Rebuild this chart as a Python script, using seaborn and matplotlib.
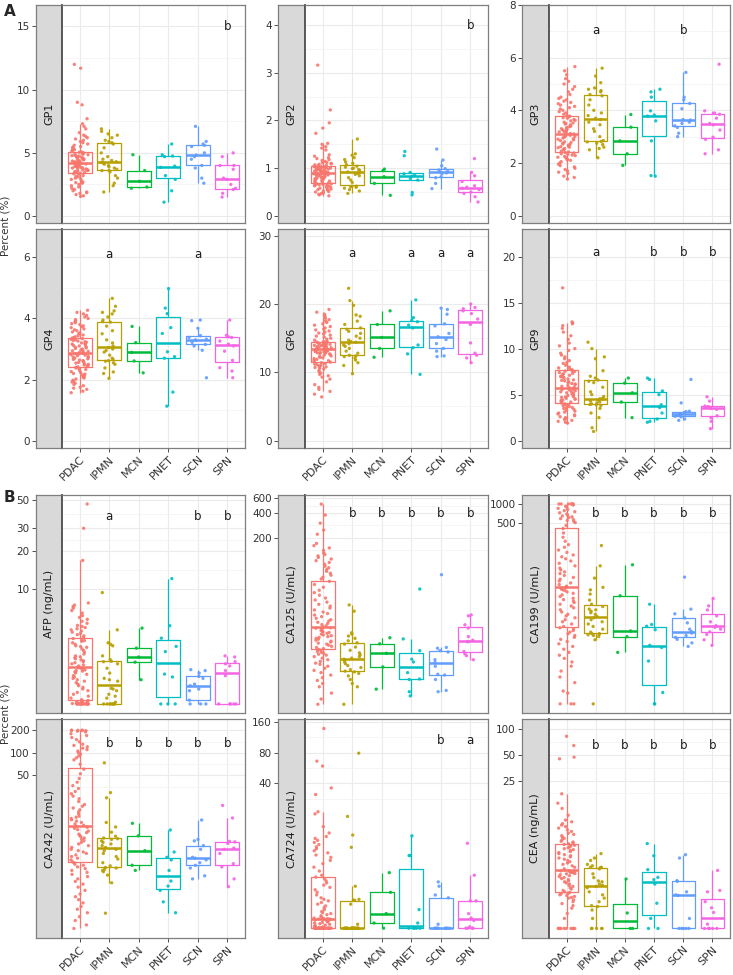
import numpy as np
import pandas as pd
import matplotlib
matplotlib.use("Agg")
import matplotlib.pyplot as plt
import seaborn as sns
from matplotlib.ticker import FixedLocator, NullLocator

np.random.seed(3)
sns.set_theme(style="white")
plt.rcParams['font.family'] = ['DejaVu Sans']

GROUPS = ["PDAC", "IPMN", "MCN", "PNET", "SCN", "SPN"]
COLORS = ["#F8766D", "#B79F00", "#00BA38", "#00BFC4", "#619CFF", "#F564E3"]

# ---------------- Panel A data (Percent %) ----------------
GP1 = {
    "PDAC": [1.55,1.6,1.7,1.8,1.85,1.9,2.0,2.1,2.2,2.3,2.4,2.5,2.6,2.65,2.7,2.8,2.9,2.95,3.0,3.1,3.15,3.2,3.3,3.35,3.4,
             3.45,3.5,3.52,3.55,3.6,3.62,3.65,3.7,3.72,3.75,3.8,3.82,3.85,3.9,3.92,3.95,4.0,4.02,4.05,4.1,4.12,4.15,4.18,4.2,4.22,
             4.25,4.28,4.3,4.35,4.38,4.4,4.45,4.48,4.5,4.55,4.58,4.6,4.65,4.68,4.7,4.75,4.78,4.8,4.85,4.88,4.9,4.95,5.0,5.05,5.08,
             5.12,5.2,5.25,5.3,5.4,5.45,5.5,5.6,5.7,5.8,5.9,6.0,6.1,6.2,6.3,6.4,6.6,6.9,7.1,7.3,7.7,8.8,9.0,11.7,12.0],
    "IPMN": [1.9,2.4,2.6,3.0,3.2,3.5,3.6,3.62,3.7,3.8,3.9,4.0,4.1,4.2,4.25,4.3,4.4,4.5,4.7,5.0,5.4,5.7,5.8,5.9,6.0,6.2,6.4,6.5,6.7,6.9],
    "MCN": [2.2,2.3,2.75,3.6,4.85],
    "PNET": [1.1,2.0,2.9,3.2,3.85,3.95,4.7,4.75,4.85,5.7],
    "SCN": [2.6,3.0,3.8,4.0,4.5,4.7,4.83,5.0,5.5,5.6,5.7,5.9,7.1],
    "SPN": [1.5,1.8,2.1,2.2,2.5,2.9,3.0,3.7,4.0,4.0,4.7,5.0],
}
GP2 = {
    "PDAC": [0.42,0.44,0.45,0.47,0.48,0.5,0.51,0.52,0.54,0.55,0.56,0.57,0.58,0.6,0.61,0.62,0.63,0.64,0.65,0.65,0.66,0.67,0.67,0.68,0.69,
             0.7,0.71,0.72,0.73,0.74,0.75,0.76,0.77,0.78,0.79,0.8,0.8,0.81,0.82,0.83,0.84,0.84,0.85,0.86,0.86,0.87,0.87,0.88,0.88,0.89,
             0.89,0.9,0.9,0.91,0.92,0.92,0.93,0.94,0.94,0.95,0.96,0.96,0.97,0.98,0.98,0.99,1.0,1.0,1.01,1.01,1.02,1.02,1.03,1.03,1.04,
             1.05,1.06,1.07,1.08,1.09,1.1,1.11,1.12,1.14,1.16,1.18,1.2,1.22,1.25,1.28,1.38,1.42,1.45,1.5,1.52,1.73,1.84,1.95,2.22,3.16],
    "IPMN": [0.47,0.52,0.55,0.58,0.6,0.61,0.62,0.62,0.7,0.75,0.8,0.84,0.87,0.89,0.9,0.92,0.95,0.97,0.99,1.0,1.02,1.04,1.07,1.1,1.13,1.18,1.22,1.27,1.3,1.61],
    "MCN": [0.43,0.68,0.82,0.95,0.98],
    "PNET": [0.44,0.49,0.75,0.78,0.83,0.85,0.88,0.91,1.26,1.35],
    "SCN": [0.57,0.68,0.8,0.82,0.88,0.9,0.92,0.93,0.96,0.99,1.05,1.17,1.4],
    "SPN": [0.29,0.4,0.47,0.5,0.55,0.58,0.6,0.63,0.72,0.84,0.91,1.2],
}
GP3 = {
    "PDAC": [1.39,1.45,1.5,1.6,1.65,1.7,1.75,1.8,1.85,1.9,1.95,2.0,2.05,2.1,2.12,2.15,2.2,2.22,2.25,2.28,2.3,2.33,2.35,2.38,2.4,
             2.42,2.45,2.5,2.52,2.55,2.58,2.6,2.62,2.65,2.68,2.7,2.72,2.75,2.78,2.8,2.85,2.88,2.9,2.92,2.95,2.98,3.0,3.02,3.05,3.08,
             3.1,3.12,3.15,3.18,3.2,3.22,3.25,3.28,3.3,3.32,3.35,3.38,3.4,3.45,3.48,3.5,3.52,3.55,3.6,3.62,3.65,3.7,3.72,3.75,3.78,
             3.8,3.85,3.9,3.95,4.0,4.05,4.1,4.15,4.2,4.25,4.3,4.35,4.4,4.45,4.5,4.6,4.7,4.8,4.9,5.0,5.1,5.2,5.35,5.5,5.66],
    "IPMN": [2.2,2.5,2.55,2.6,2.7,2.75,2.8,2.82,2.85,3.0,3.2,3.3,3.45,3.55,3.65,3.7,3.8,3.9,4.0,4.2,4.4,4.55,4.6,4.7,4.75,4.8,4.85,5.05,5.3,5.6],
    "MCN": [1.91,2.35,2.84,3.36,3.84],
    "PNET": [1.5,1.52,2.84,3.6,3.78,3.82,3.98,4.5,4.7,4.8],
    "SCN": [3.0,3.13,3.35,3.41,3.5,3.55,3.63,3.65,4.06,4.26,4.4,4.5,5.44],
    "SPN": [2.35,2.5,2.9,2.98,3.25,3.45,3.5,3.7,3.85,3.9,3.98,5.75],
}
GP4 = {
    "PDAC": [1.57,1.62,1.68,1.72,1.75,1.8,1.84,1.88,1.92,1.95,1.98,2.02,2.05,2.08,2.12,2.15,2.18,2.2,2.23,2.26,2.3,2.33,2.35,2.38,2.4,
             2.42,2.44,2.46,2.48,2.5,2.52,2.54,2.56,2.58,2.6,2.62,2.64,2.66,2.68,2.7,2.72,2.74,2.76,2.78,2.8,2.82,2.84,2.85,2.86,2.87,
             2.88,2.9,2.92,2.94,2.96,2.98,3.0,3.02,3.04,3.06,3.08,3.1,3.12,3.14,3.16,3.18,3.2,3.22,3.24,3.26,3.28,3.3,3.32,3.34,3.36,
             3.38,3.4,3.43,3.46,3.5,3.53,3.56,3.6,3.63,3.66,3.7,3.73,3.76,3.8,3.83,3.86,3.9,3.93,3.96,4.0,4.05,4.1,4.15,4.2,4.27],
    "IPMN": [2.04,2.2,2.25,2.38,2.5,2.55,2.6,2.62,2.66,2.7,2.8,2.9,2.95,3.0,3.05,3.1,3.2,3.3,3.5,3.6,3.75,3.88,3.9,3.95,4.05,4.15,4.2,4.25,4.4,4.66],
    "MCN": [2.22,2.61,2.89,3.21,3.74],
    "PNET": [1.13,1.59,2.7,2.75,2.91,3.51,3.7,4.16,4.34,4.98],
    "SCN": [2.06,2.96,3.1,3.15,3.22,3.28,3.3,3.32,3.38,3.44,3.68,3.93,3.95],
    "SPN": [2.06,2.28,2.39,2.63,2.93,3.1,3.16,3.26,3.38,3.4,3.45,3.95],
}
GP6 = {
    "PDAC": [6.4,6.8,7.2,7.5,7.8,8.2,8.6,9.0,9.3,9.5,9.7,9.9,10.1,10.3,10.5,10.6,10.7,10.8,10.9,11.0,11.1,11.2,11.3,11.4,11.5,
             11.6,11.7,11.8,11.9,12.0,12.1,12.2,12.3,12.4,12.5,12.6,12.7,12.75,12.8,12.85,12.9,12.95,13.0,13.05,13.1,13.15,13.2,13.25,13.3,13.35,
             13.4,13.45,13.5,13.55,13.6,13.65,13.7,13.75,13.8,13.85,13.9,13.95,14.0,14.05,14.1,14.15,14.2,14.25,14.3,14.32,14.35,14.4,14.42,14.45,14.48,
             14.55,14.7,14.85,15.0,15.15,15.3,15.45,15.6,15.75,15.9,16.05,16.2,16.35,16.5,16.7,16.9,17.1,17.3,17.5,17.7,17.9,18.2,18.5,18.8,19.2],
    "IPMN": [9.8,11.0,11.4,11.8,12.1,12.3,12.4,12.5,12.8,13.1,13.5,13.8,14.0,14.2,14.4,14.5,14.7,15.0,15.3,15.7,16.0,16.3,16.5,17.0,17.5,18.2,18.4,19.8,20.5,22.3],
    "MCN": [12.2,13.5,15.1,17.0,19.0],
    "PNET": [9.7,12.7,13.6,14.0,16.5,16.9,17.4,17.6,18.0,20.6],
    "SCN": [12.3,12.4,13.1,13.5,14.2,14.8,15.2,15.7,16.8,17.1,18.5,19.2,19.4],
    "SPN": [11.4,12.1,12.5,12.8,14.3,17.0,17.8,18.6,19.0,19.3,19.5,20.0],
}
GP9 = {
    "PDAC": [1.9,2.0,2.1,2.2,2.3,2.4,2.5,2.6,2.7,2.8,2.9,3.0,3.1,3.2,3.3,3.4,3.5,3.55,3.6,3.7,3.8,3.85,3.9,4.0,4.1,
             4.15,4.2,4.3,4.35,4.4,4.5,4.55,4.6,4.7,4.75,4.8,4.9,4.95,5.0,5.1,5.15,5.2,5.3,5.35,5.4,5.5,5.55,5.6,5.65,5.7,
             5.75,5.8,5.9,6.0,6.1,6.15,6.2,6.3,6.4,6.5,6.55,6.6,6.7,6.8,6.9,6.95,7.0,7.1,7.2,7.25,7.3,7.4,7.5,7.55,7.6,
             7.7,7.8,7.9,8.0,8.2,8.4,8.5,8.7,8.9,9.1,9.3,9.5,9.8,10.0,10.3,10.6,11.0,11.4,11.8,12.2,12.5,12.7,12.8,12.9,16.6],
    "IPMN": [1.0,1.4,2.5,3.0,3.5,3.8,3.9,3.92,4.0,4.1,4.2,4.3,4.4,4.5,4.55,4.6,4.8,5.0,5.3,5.8,6.3,6.45,6.6,6.8,7.0,7.6,8.9,9.1,10.0,10.7],
    "MCN": [2.5,4.2,5.2,6.25,6.8],
    "PNET": [2.0,2.1,2.35,3.0,3.6,3.9,5.0,5.4,6.65,6.8],
    "SCN": [2.2,2.35,2.6,2.65,2.75,2.85,2.9,2.95,3.05,3.16,3.2,4.1,6.65],
    "SPN": [1.3,2.1,2.5,2.7,3.4,3.5,3.6,3.65,3.7,3.75,4.3,4.76],
}

# ---------------- Panel B data (log scale) ----------------
AFP = {
    "PDAC": [1.26,1.26,1.26,1.26,1.26,1.26,1.26,1.26,1.26,1.26,1.26,1.26,1.26,1.26,1.26,1.26,1.27,1.28,1.29,1.3,1.3,1.31,1.32,1.33,1.34,
             1.36,1.4,1.45,1.5,1.55,1.6,1.65,1.7,1.75,1.8,1.85,1.9,1.95,2.0,2.05,2.1,2.15,2.2,2.25,2.28,2.3,2.33,2.36,2.4,2.42,
             2.45,2.5,2.55,2.6,2.65,2.7,2.75,2.8,2.85,2.9,2.95,3.0,3.1,3.2,3.3,3.4,3.5,3.55,3.6,3.7,3.8,3.9,3.95,4.0,4.1,
             4.2,4.3,4.4,4.5,4.6,4.7,4.8,4.9,5.0,5.1,5.2,5.4,5.6,5.8,6.0,6.2,6.5,6.8,7.1,7.3,7.5,7.8,16.8,30.0,46.5],
    "IPMN": [1.26,1.26,1.26,1.26,1.26,1.26,1.26,1.26,1.3,1.4,1.45,1.5,1.6,1.65,1.67,1.9,1.95,2.0,2.2,2.4,2.6,2.7,2.72,2.8,3.0,3.6,3.7,3.8,4.8,9.4],
    "MCN": [1.95,2.68,2.94,3.45,4.95],
    "PNET": [1.26,1.26,1.26,2.05,2.16,3.24,3.56,4.13,5.17,12.1],
    "SCN": [1.26,1.26,1.26,1.35,1.6,1.65,1.75,1.8,2.0,2.07,2.2,2.3,2.34],
    "SPN": [1.26,1.26,1.26,1.26,1.26,2.1,2.3,2.5,2.6,2.7,2.94,3.0],
}
CA125 = {
    "PDAC": [1.9,2.2,2.6,3.1,3.4,3.7,4.0,4.3,4.6,4.9,5.2,5.5,5.8,6.0,6.3,6.6,6.9,7.2,7.5,7.7,7.9,8.1,8.3,8.6,8.8,
             9.0,9.3,9.6,9.9,10.2,10.5,10.8,11.1,11.4,11.7,12.0,12.3,12.6,12.9,13.2,13.5,13.8,14.1,14.4,14.7,15.0,15.3,15.6,15.9,16.1,
             16.4,17.0,17.6,18.2,18.8,19.5,20.2,21.0,22.0,23.0,24.0,25.0,26.5,28.0,29.5,31.0,33.0,35.0,37.0,40.0,43.0,46.0,50.0,54.0,59.0,
             63,66,70,74,78,82,86,90,95,100,105,110,115,120,125,130,140,150,160,170,220,247,300,376,511],
    "IPMN": [1.9,3.1,3.4,3.8,4.2,4.5,4.7,4.8,5.0,5.3,5.6,5.9,6.2,6.5,6.7,6.9,7.2,7.6,8.0,8.6,9.4,10.2,10.6,11.2,12.0,12.8,13.5,14.0,25.6,30.5],
    "MCN": [2.9,5.4,7.9,10.3,12.2],
    "PNET": [2.4,2.7,3.8,3.85,4.6,6.2,6.7,8.5,11.8,47.6],
    "SCN": [2.7,2.8,3.8,4.3,4.4,5.5,6.1,6.6,8.2,8.5,9.1,9.3,71],
    "SPN": [6.6,7.4,7.8,8.3,10.9,11.0,11.4,12.6,16.0,17.5,22.5,23.1],
}
CA199 = {
    "PDAC": [0.59,0.59,0.59,0.88,0.95,1.3,1.6,2.0,2.4,2.8,3.2,3.6,4.0,4.5,5.0,5.5,6.0,6.5,7.0,7.5,8.0,8.5,9.0,9.5,10.0,
             10.5,11.5,12.5,13.5,14.5,15.5,16.5,18,19.5,21,22.5,24,25.5,27,28.5,30,32,34,36,38,40,41,42,44,45,
             47,50,53,57,61,65,70,75,80,86,92,100,110,120,130,140,150,165,180,200,220,250,290,340,400,
             450,500,520,540,560,580,600,620,640,660,690,720,750,780,810,850,880,920,960,1000,1000,1000,1000,1000,1000],
    "IPMN": [0.59,6.4,7.2,7.5,7.7,7.9,8.0,8.0,8.5,9.5,10.5,11.5,12.5,13.5,14.5,15.3,16.5,17.5,18.5,19.5,20,22,24,28,35,41,45,63.5,100,213],
    "MCN": [4.0,7.2,8.9,32.9,104],
    "PNET": [0.59,0.59,0.9,2.9,4.8,5.2,9.3,10.6,11.3,24],
    "SCN": [5.0,5.7,6.5,7.0,7.5,8.2,8.7,9.5,12.0,14.4,16.8,20,65.8],
    "SPN": [5.2,6.4,7.8,8.6,9.5,10.2,10.8,12.5,15.6,19.4,22.6,29.8],
}
CA242 = {
    "PDAC": [0.43,0.48,0.55,0.62,0.7,0.78,0.85,0.95,1.05,1.15,1.25,1.4,1.55,1.7,1.85,2.0,2.15,2.3,2.45,2.6,2.75,2.9,3.05,3.15,3.3,
             3.4,3.6,3.8,4.0,4.2,4.4,4.6,4.8,5.0,5.3,5.6,5.9,6.2,6.5,6.8,7.1,7.4,7.7,8.0,8.4,8.8,9.2,9.6,9.9,10.2,
             10.5,11,11.5,12,12.5,13,13.5,14,15,16,17,18,19,20,22,24,26,28,30,33,36,40,45,52,60,
             70,80,85,90,95,100,105,110,115,120,125,130,140,150,160,170,180,190,195,198,200,200,200,200,200],
    "IPMN": [0.69,1.77,2.25,2.5,2.6,2.7,2.8,2.85,3.0,3.3,3.7,4.0,4.4,4.8,5.0,5.3,5.6,5.9,6.2,6.5,6.8,6.95,7.1,7.5,8.5,10.0,11.5,24.7,29,73],
    "MCN": [2.6,3.05,4.8,7.6,11.2],
    "PNET": [0.7,0.98,1.4,1.6,1.87,2.6,3.6,3.9,4.6,9.1],
    "SCN": [2.0,2.2,2.8,3.04,3.3,3.6,3.8,3.9,5.0,5.6,6.5,6.8,12.4],
    "SPN": [1.57,2.0,2.9,3.2,4.4,5.0,5.2,6.0,6.3,6.4,13.2,19.5],
}
CA724 = {
    "PDAC": [1.51,1.51,1.51,1.51,1.51,1.51,1.51,1.51,1.51,1.51,1.51,1.51,1.51,1.51,1.51,1.51,1.51,1.51,1.51,1.51,1.51,1.51,1.51,1.51,1.51,
             1.51,1.51,1.51,1.51,1.51,1.55,1.58,1.6,1.62,1.65,1.67,1.7,1.72,1.74,1.76,1.78,1.8,1.81,1.82,1.83,1.84,1.85,1.86,1.86,1.87,
             1.88,1.9,1.95,2.0,2.05,2.1,2.15,2.2,2.3,2.4,2.5,2.6,2.7,2.8,2.9,3.0,3.2,3.4,3.6,3.8,4.0,4.2,4.4,4.6,4.8,
             5.0,5.5,6.0,6.5,7.0,7.5,7.9,8.3,8.7,9.1,9.5,10.0,10.5,11.0,11.5,12.0,13.0,15.0,20.0,21.0,31.0,36.0,59.0,66.0,138.0],
    "IPMN": [1.51,1.51,1.51,1.51,1.51,1.51,1.51,1.51,1.51,1.51,1.51,1.51,1.51,1.51,1.51,1.51,1.51,1.51,1.51,1.51,
             1.65,2.6,2.84,2.84,2.9,3.9,9.4,12.4,18.9,79],
    "MCN": [1.51,1.7,2.1,3.4,5.3],
    "PNET": [1.51,1.51,1.51,1.51,1.51,1.7,2.3,7.8,7.8,12.2],
    "SCN": [1.51,1.51,1.51,1.51,1.51,1.51,1.51,1.51,1.65,3.0,3.2,3.9,4.3],
    "SPN": [1.51,1.51,1.51,1.51,1.56,1.8,1.9,2.1,2.8,2.8,5.0,10.3],
}
CEA = {
    "PDAC": [0.49,0.49,0.49,0.49,0.49,0.49,0.49,0.49,0.49,0.49,0.64,0.73,0.84,0.9,0.95,1.0,1.05,1.1,1.12,1.15,1.18,1.2,1.23,1.25,1.28,
             1.3,1.35,1.4,1.45,1.5,1.55,1.6,1.65,1.7,1.75,1.8,1.85,1.9,1.95,2.0,2.05,2.1,2.12,2.15,2.18,2.2,2.22,2.25,2.27,2.29,
             2.32,2.4,2.5,2.6,2.7,2.8,2.9,3.0,3.1,3.2,3.3,3.4,3.5,3.6,3.7,3.8,3.9,4.0,4.1,4.2,4.3,4.4,4.5,4.6,4.68,
             4.8,4.9,5.0,5.2,5.4,5.6,5.8,6.0,6.2,6.5,6.8,7.1,7.4,7.7,8.0,8.4,8.8,10,12,13.8,17.7,45,47,64,82],
    "IPMN": [0.49,0.49,0.49,0.49,0.49,0.64,0.8,0.88,0.9,1.0,1.1,1.2,1.3,1.45,1.5,1.55,1.6,1.7,1.74,1.9,2.1,2.4,2.48,2.5,2.5,2.6,2.7,3.0,3.2,3.6],
    "MCN": [0.49,0.49,0.74,1.83],
    "PNET": [0.49,0.49,0.64,0.96,1.6,1.8,1.91,2.35,3.4,4.7],
    "SCN": [0.49,0.49,0.49,0.49,0.49,0.64,1.18,1.2,1.3,1.72,1.75,3.2,3.5],
    "SPN": [0.49,0.49,0.49,0.49,0.49,0.55,0.75,0.85,1.0,1.3,1.35,2.3],
}

# Panel specs: (strip label, data, row, col, log, ticks, tick labels, minor gridlines, ylim, letters, letter y)
PANELS = [
    ("GP1", GP1, 0, 0, False, [0, 5, 10, 15], ["0", "5", "10", "15"], [2.5, 7.5, 12.5], (-0.55, 16.7), {"SPN": "b"}, 15.0),
    ("GP2", GP2, 0, 1, False, [0, 1, 2, 3, 4], ["0", "1", "2", "3", "4"], [0.5, 1.5, 2.5, 3.5], (-0.15, 4.42), {"SPN": "b"}, 4.0),
    ("GP3", GP3, 0, 2, False, [0, 2, 4, 6, 8], ["0", "2", "4", "6", "8"], [1, 3, 5, 7], (-0.28, 8.0), {"IPMN": "a", "SCN": "b"}, 7.05),
    ("GP4", GP4, 1, 0, False, [0, 2, 4, 6], ["0", "2", "4", "6"], [1, 3, 5], (-0.24, 6.93), {"IPMN": "a", "SCN": "a"}, 6.1),
    ("GP6", GP6, 1, 1, False, [0, 10, 20, 30], ["0", "10", "20", "30"], [5, 15, 25], (-1.08, 30.98),
     {"IPMN": "a", "PNET": "a", "SCN": "a", "SPN": "a"}, 27.4),
    ("GP9", GP9, 1, 2, False, [0, 5, 10, 15, 20], ["0", "5", "10", "15", "20"], [2.5, 7.5, 12.5, 17.5], (-0.8, 23.0),
     {"IPMN": "a", "PNET": "b", "SCN": "b", "SPN": "b"}, 20.4),
    ("AFP (ng/mL)", AFP, 2, 0, True, [10, 20, 30, 50], ["10", "20", "30", "50"], [7.07, 14.1, 24.5, 38.7], (1.07, 54.7),
     {"IPMN": "a", "SCN": "b", "SPN": "b"}, 37.0),
    ("CA125 (U/mL)", CA125, 2, 1, True, [200, 400, 600], ["200", "400", "600"], [141, 283, 490], (1.49, 658),
     {"IPMN": "b", "MCN": "b", "PNET": "b", "SCN": "b", "SPN": "b"}, 387),
    ("CA199 (U/mL)", CA199, 2, 2, True, [500, 1000], ["500", "1000"], [354, 707], (0.42, 1396),
     {"IPMN": "b", "MCN": "b", "PNET": "b", "SCN": "b", "SPN": "b"}, 690),
    ("CA242 (U/mL)", CA242, 3, 0, True, [50, 100, 200], ["50", "100", "200"], [35, 71, 141], (0.32, 284),
     {"IPMN": "b", "MCN": "b", "PNET": "b", "SCN": "b", "SPN": "b"}, 131),
    ("CA724 (U/mL)", CA724, 3, 1, True, [40, 80, 160], ["40", "80", "160"], [28, 57, 113], (1.21, 171),
     {"SCN": "b", "SPN": "a"}, 105),
    ("CEA (ng/mL)", CEA, 3, 2, True, [25, 50, 100], ["25", "50", "100"], [18, 35, 71], (0.38, 130),
     {"IPMN": "b", "MCN": "b", "PNET": "b", "SCN": "b", "SPN": "b"}, 65),
]

W, H = 733, 975
fig = plt.figure(figsize=(W / 100, H / 100), dpi=100)

COLS = [(36, 62, 245), (278, 305, 488), (522, 549, 730)]
ROWS = [(5, 223), (229, 448), (495, 713), (719, 938)]
TXT = "#333333"
BORDER = "#7F7F7F"
GRID = "#EBEBEB"
FS = 7.5

for (label, data, r, c, logy, ticks, tlabels, minors, ylim, letters, ly) in PANELS:
    s_l, p_l, p_r = COLS[c]
    top, bot = ROWS[r]
    hfrac = (bot - top) / H
    sax = fig.add_axes([s_l / W, 1 - bot / H, (p_l - s_l) / W, hfrac])
    ax = fig.add_axes([p_l / W, 1 - bot / H, (p_r - p_l) / W, hfrac])

    df = pd.DataFrame([(g, v) for g in GROUPS for v in data[g]], columns=["group", "value"])
    ls = (False, True) if logy else None
    sns.boxplot(data=df, x="group", y="value", hue="group", order=GROUPS, hue_order=GROUPS,
                palette=COLORS, fill=False, showfliers=False, width=0.8, linewidth=0.9,
                showcaps=False, whis=1.5, legend=False, ax=ax, log_scale=ls,
                medianprops=dict(linewidth=1.8))
    sns.stripplot(data=df, x="group", y="value", hue="group", order=GROUPS, hue_order=GROUPS,
                  palette=COLORS, jitter=0.3, size=2.4, linewidth=0, alpha=0.9,
                  legend=False, ax=ax, log_scale=ls, zorder=3)

    ax.set_xlim(-0.6, 5.6)
    ax.set_ylim(*ylim)
    ax.yaxis.set_major_locator(FixedLocator(ticks))
    ax.yaxis.set_minor_locator(FixedLocator(minors))
    ax.set_xlabel("")
    ax.set_ylabel("")
    ax.set_facecolor("white")
    ax.grid(True, which="major", color=GRID, linewidth=0.8)
    ax.grid(True, which="minor", axis="y", color="#F2F2F2", linewidth=0.5)
    ax.set_axisbelow(True)
    ax.tick_params(axis="y", which="both", left=False, labelleft=False, right=False)
    for sp in ax.spines.values():
        sp.set_color(BORDER)
        sp.set_linewidth(0.9)
    ax.spines["left"].set_color("#4D4D4D")
    ax.spines["left"].set_linewidth(1.3)

    if r in (1, 3):
        ax.tick_params(axis="x", bottom=True, length=3, width=0.6, color=TXT,
                       labelsize=8, labelcolor=TXT, pad=1.5)
        for t in ax.get_xticklabels():
            t.set_rotation(45)
            t.set_ha("right")
            t.set_rotation_mode("anchor")
    else:
        ax.tick_params(axis="x", bottom=False, labelbottom=False)

    for g, lab in letters.items():
        ax.text(GROUPS.index(g), ly, lab, ha="center", va="center", fontsize=8.5, color="#1A1A1A")

    # strip with y axis
    sax.set_facecolor("#D9D9D9")
    if logy:
        sax.set_yscale("log")
    sax.set_ylim(*ylim)
    sax.set_xlim(0, 1)
    sax.yaxis.set_major_locator(FixedLocator(ticks))
    sax.set_yticklabels(tlabels)
    sax.yaxis.set_minor_locator(NullLocator())
    sax.set_xticks([])
    sax.tick_params(axis="y", which="major", left=True, length=3, width=0.6, color=TXT,
                    labelsize=FS, labelcolor=TXT, pad=1.5)
    for sp in sax.spines.values():
        sp.set_color(BORDER)
        sp.set_linewidth(0.9)
    sax.text(0.5, 0.5, label, rotation=90, ha="center", va="center",
             transform=sax.transAxes, fontsize=8, color="#1A1A1A")

fig.text(4 / W, 1 - 11 / H, "A", fontsize=11, fontweight="bold", ha="left", va="center")
fig.text(4 / W, 1 - 498 / H, "B", fontsize=11, fontweight="bold", ha="left", va="center")
fig.text(6 / W, 1 - 226 / H, "Percent (%)", rotation=90, ha="center", va="center", fontsize=7.5, color=TXT)
fig.text(6 / W, 1 - 714 / H, "Percent (%)", rotation=90, ha="center", va="center", fontsize=7.5, color=TXT)

fig.savefig("out.png", dpi=100)
